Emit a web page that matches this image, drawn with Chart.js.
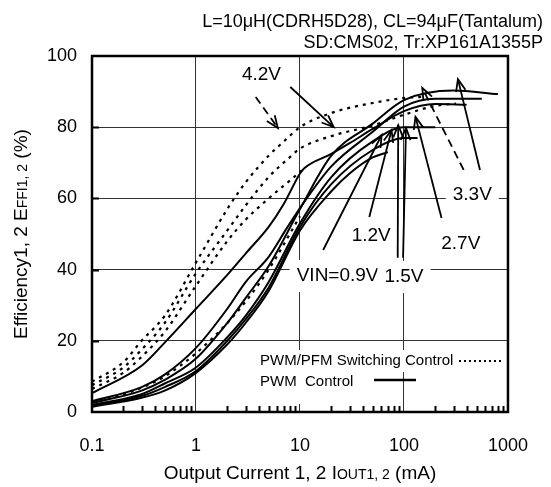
<!DOCTYPE html>
<html>
<head>
<meta charset="utf-8">
<script src="https://cdn.jsdelivr.net/npm/chart.js@4.4.0/dist/chart.umd.min.js"></script>
<style>
html,body{margin:0;padding:0;background:#fff;}
</style>
</head>
<body>
<canvas id="eff_chart" width="551" height="487"></canvas>
<script>
// PWM/PFM switching control (dotted curves)
var pfm_a_x = [0.1, 0.2, 0.3, 0.5, 1, 2, 3, 5, 7, 10, 20, 50, 100, 150];
var pfm_a_y = [8.5, 14, 20, 27, 42, 57, 64.5, 72, 76, 80, 84, 86.8, 88.2, 88.5];
var pfm_b_x = [0.1, 0.2, 0.3, 0.5, 1, 2, 3, 5, 8, 10, 20, 50, 100, 200, 316];
var pfm_b_y = [7.5, 12.5, 17.5, 25, 39, 51, 58, 66, 71.6, 74, 77.5, 80.5, 83.5, 86, 86.6];
var pfm_c_x = [0.1, 0.2, 0.3, 0.5, 1, 2, 3, 5, 8, 11];
var pfm_c_y = [6.5, 11, 15.5, 22.5, 35.5, 48, 54, 60, 65, 68.5];
var pfm_d_x = [0.1, 0.2, 0.3, 0.5, 1, 2, 3, 5, 10];
var pfm_d_y = [2.8, 5, 6.8, 10, 16.5, 25, 31, 40, 55];

// PWM control (solid curves)
var pwm_a_x = [0.1, 0.3, 0.5, 1, 2, 3, 5, 7, 10, 11, 20, 30, 50, 100, 200, 400];
var pwm_a_y = [5.3, 13, 19.5, 29, 38.5, 44.5, 52, 58.5, 67, 68.5, 72.5, 75.5, 79.5, 84.5, 86.5, 86.3];
var pwm_b_x = [0.1, 0.3, 0.5, 1, 2, 3, 5, 7.6, 11.6, 20, 50, 100, 200, 560];
var pwm_b_y = [3, 7, 10.5, 18, 29, 36.5, 43.6, 52, 60, 69, 78.7, 85.8, 88, 88];
var pwm_c_x = [0.1, 0.3, 0.5, 1, 2, 3, 5, 10, 20, 50, 100, 300, 800];
var pwm_c_y = [2.5, 6, 9, 15, 25, 32, 41, 57, 72, 81, 87.6, 90.3, 89.3];
var pwm_15_x = [0.1, 0.3, 0.5, 1, 2, 3, 5, 10, 20, 50, 100, 200];
var pwm_15_y = [2, 5, 8, 12.5, 21, 27, 36.5, 53, 66, 76, 80, 80];
var pwm_12_x = [0.1, 0.3, 0.5, 1, 2, 3, 5, 10, 20, 50, 100, 135];
var pwm_12_y = [1.8, 4.5, 7, 11.5, 20, 26, 35, 52, 64, 73.6, 77, 77];
var pwm_09_x = [0.1, 0.3, 0.5, 1, 2, 3, 5, 10, 20, 30, 50, 70];
var pwm_09_y = [1.5, 4, 6, 11, 19, 25, 34, 51, 62, 67, 71.5, 73];

// axis ticks
var x_ticks = [0.1, 1, 10, 100, 1000];
var y_ticks = [0, 20, 40, 60, 80, 100];

// annotation labels (data units)
var label_text = ['4.2V', '1.2V', '2.7V', '3.3V', 'VIN=0.9V', '1.5V'];
var label_x = [4.26, 48.4, 352, 454, 23, 100];
var label_y = [94.7, 49.4, 47.3, 61, 38.2, 37.9];

// arrows (data units)
var arrow_from_x = [3.75, 8.07, 16.7, 46.4, 87, 98, 229.6, 375, 538];
var arrow_from_y = [88.5, 91.3, 45.5, 54.8, 43.3, 43.3, 54.5, 68, 68];
var arrow_to_x = [6.12, 21.1, 61, 75.9, 88, 104.5, 129, 150, 330];
var arrow_to_y = [79.8, 80, 77.8, 79.2, 80.6, 79.8, 82.9, 91, 93.5];
var arrow_dashed = [true, false, false, false, false, false, false, true, false];

var FONT = '"Liberation Sans", Arial, sans-serif';

function make_points(xs, ys){
	var pts = [];
	for(var i=0; i<xs.length; i++){
		pts.push({x: xs[i], y: ys[i]});
	}
	return pts;
}

function make_dataset(xs, ys, dotted){
	var ds = {};
	ds.data = make_points(xs, ys);
	ds.borderColor = '#000';
	ds.borderWidth = dotted ? 2.2 : 2;
	ds.pointRadius = 0;
	ds.fill = false;
	ds.cubicInterpolationMode = 'monotone';
	if(dotted) ds.borderDash = [3, 5];
	return ds;
}

function draw_mixed(ctx, parts, x, y){
	var total = 0;
	for(var i=0; i<parts.length; i++){
		ctx.font = parts[i].size + 'px ' + FONT;
		parts[i].w = ctx.measureText(parts[i].t).width;
		total += parts[i].w;
	}
	var cx = x - total/2;
	ctx.textAlign = 'left';
	ctx.textBaseline = 'alphabetic';
	for(var i=0; i<parts.length; i++){
		ctx.font = parts[i].size + 'px ' + FONT;
		ctx.fillText(parts[i].t, cx, y);
		cx += parts[i].w;
	}
}

function draw_arrow(ctx, x0, y0, x1, y1, dashed){
	ctx.save();
	ctx.strokeStyle = '#000';
	ctx.lineWidth = 1.8;
	if(dashed) ctx.setLineDash([8, 5]);
	ctx.beginPath();
	ctx.moveTo(x0, y0);
	ctx.lineTo(x1, y1);
	ctx.stroke();
	ctx.setLineDash([]);
	var ang = Math.atan2(y0 - y1, x0 - x1);
	var len = 13, spread = 0.38;
	ctx.beginPath();
	ctx.moveTo(x1 + len*Math.cos(ang - spread), y1 + len*Math.sin(ang - spread));
	ctx.lineTo(x1, y1);
	ctx.lineTo(x1 + len*Math.cos(ang + spread), y1 + len*Math.sin(ang + spread));
	ctx.stroke();
	ctx.restore();
}

var decor = {
	id: 'decor',
	beforeDatasetsDraw: function(chart){
		var ctx = chart.ctx, xs = chart.scales.x, ys = chart.scales.y, area = chart.chartArea;
		ctx.save();
		// labels with white boxes over the grid
		ctx.font = '19px ' + FONT;
		ctx.textAlign = 'center';
		ctx.textBaseline = 'middle';
		for(var i=0; i<label_text.length; i++){
			var px = xs.getPixelForValue(label_x[i]);
			var py = ys.getPixelForValue(label_y[i]);
			var w = ctx.measureText(label_text[i]).width;
			ctx.fillStyle = '#fff';
			ctx.fillRect(px - w/2 - 7, py - 16, w + 14, 32);
			ctx.fillStyle = '#000';
			ctx.fillText(label_text[i], px, py);
		}
		// legend
		var lx = area.right - 254, ly = area.bottom - 62;
		ctx.fillStyle = '#fff';
		ctx.fillRect(lx, ly, 252, 22);
		ctx.fillRect(lx, ly + 22, 146, 32);
		ctx.fillStyle = '#000';
		ctx.font = '15px ' + FONT;
		ctx.textAlign = 'left';
		ctx.fillText('PWM/PFM Switching Control', lx + 6, ly + 11);
		ctx.fillText('PWM  Control', lx + 6, ly + 32);
		ctx.strokeStyle = '#000';
		ctx.lineWidth = 2;
		ctx.setLineDash([2, 3]);
		ctx.beginPath();
		ctx.moveTo(lx + 205, ly + 11);
		ctx.lineTo(lx + 250, ly + 11);
		ctx.stroke();
		ctx.setLineDash([]);
		ctx.lineWidth = 2.5;
		ctx.beginPath();
		ctx.moveTo(lx + 120, ly + 30);
		ctx.lineTo(lx + 162, ly + 30);
		ctx.stroke();
		ctx.restore();
	},
	afterDatasetsDraw: function(chart){
		var ctx = chart.ctx, xs = chart.scales.x, ys = chart.scales.y, area = chart.chartArea;
		ctx.save();
		for(var i=0; i<arrow_from_x.length; i++){
			draw_arrow(ctx,
				xs.getPixelForValue(arrow_from_x[i]), ys.getPixelForValue(arrow_from_y[i]),
				xs.getPixelForValue(arrow_to_x[i]), ys.getPixelForValue(arrow_to_y[i]),
				arrow_dashed[i]);
		}
		// frame
		ctx.strokeStyle = '#000';
		ctx.lineWidth = 2.5;
		ctx.strokeRect(area.left, area.top, area.right - area.left, area.bottom - area.top);
		// inward ticks
		ctx.lineWidth = 2;
		ctx.beginPath();
		for(var d=0.1; d<1000; d*=10){
			for(var m=2; m<10; m++){
				var tx = Math.round(xs.getPixelForValue(d*m)) + 0.5;
				ctx.moveTo(tx, area.bottom);
				ctx.lineTo(tx, area.bottom - 6);
			}
		}
		for(var j=1; j<y_ticks.length-1; j++){
			var ty = Math.round(ys.getPixelForValue(y_ticks[j])) + 0.5;
			ctx.moveTo(area.left, ty);
			ctx.lineTo(area.left + 7, ty);
		}
		ctx.stroke();
		ctx.restore();
	},
	afterDraw: function(chart){
		var ctx = chart.ctx, area = chart.chartArea;
		ctx.save();
		ctx.fillStyle = '#000';
		ctx.font = '18px ' + FONT;
		ctx.textAlign = 'right';
		ctx.textBaseline = 'middle';
		ctx.fillText('L=10\u03bcH(CDRH5D28), CL=94\u03bcF(Tantalum)', 543, 22);
		ctx.fillText('SD:CMS02, Tr:XP161A1355P', 543, 43);
		// x title
		draw_mixed(ctx, [
			{t: 'Output Current 1, 2 I', size: 19},
			{t: 'OUT1, 2', size: 14},
			{t: ' (mA)', size: 19}
		], (area.left + area.right)/2, 479);
		// y title
		ctx.translate(27, (area.top + area.bottom)/2);
		ctx.rotate(-Math.PI/2);
		draw_mixed(ctx, [
			{t: 'Efficiency1, 2 E', size: 19},
			{t: 'FFI1, 2', size: 14},
			{t: ' (%)', size: 19}
		], 0, 0);
		ctx.restore();
	}
};

function draw_figure(){
	var ctx = document.getElementById('eff_chart').getContext('2d');
	var datasets = [];
	datasets.push(make_dataset(pfm_a_x, pfm_a_y, true));
	datasets.push(make_dataset(pfm_b_x, pfm_b_y, true));
	datasets.push(make_dataset(pfm_c_x, pfm_c_y, true));
	datasets.push(make_dataset(pfm_d_x, pfm_d_y, true));
	datasets.push(make_dataset(pwm_a_x, pwm_a_y, false));
	datasets.push(make_dataset(pwm_b_x, pwm_b_y, false));
	datasets.push(make_dataset(pwm_c_x, pwm_c_y, false));
	datasets.push(make_dataset(pwm_15_x, pwm_15_y, false));
	datasets.push(make_dataset(pwm_12_x, pwm_12_y, false));
	datasets.push(make_dataset(pwm_09_x, pwm_09_y, false));

	var params = {};
	params.type = 'line';
	params.data = {datasets: datasets};
	params.plugins = [decor];
	params.options = {
		responsive: false,
		animation: false,
		devicePixelRatio: 1,
		layout: {padding: {top: 56, right: 27, left: 0, bottom: 0}},
		plugins: {legend: {display: false}, tooltip: {enabled: false}},
		scales: {
			x: {
				type: 'logarithmic',
				min: 0.1,
				max: 1000,
				afterBuildTicks: function(scale){
					scale.ticks = x_ticks.map(function(v){ return {value: v}; });
				},
				afterFit: function(scale){ scale.height = 75; },
				ticks: {
					color: '#000',
					font: {family: FONT, size: 18},
					padding: 23,
					maxRotation: 0,
					autoSkip: false,
					callback: function(v){ return String(v); }
				},
				grid: {color: '#333', lineWidth: 1, drawTicks: false},
				border: {display: false}
			},
			y: {
				min: 0,
				max: 100,
				afterBuildTicks: function(scale){
					scale.ticks = y_ticks.map(function(v){ return {value: v}; });
				},
				afterFit: function(scale){ scale.width = 92; },
				ticks: {
					color: '#000',
					font: {family: FONT, size: 18},
					padding: 15
				},
				grid: {color: '#333', lineWidth: 1, drawTicks: false},
				border: {display: false}
			}
		}
	};
	new Chart(ctx, params);
}

draw_figure();
</script>
</body>
</html>
